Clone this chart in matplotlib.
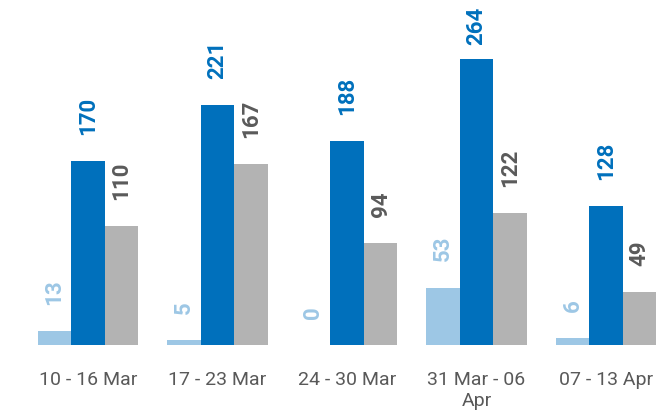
import matplotlib
matplotlib.use("Agg")
import matplotlib.pyplot as plt
import numpy as np
from matplotlib import font_manager

categories = ["10 - 16 Mar", "17 - 23 Mar", "24 - 30 Mar", "31 Mar - 06\nApr", "07 - 13 Apr"]
series_a = [13, 5, 0, 53, 6]          # light blue
series_b = [170, 221, 188, 264, 128]  # dark blue
series_c = [110, 167, 94, 122, 49]    # gray

bar_colors = ["#9DC7E5", "#0070BC", "#B3B3B3"]
label_colors = ["#9DC7E5", "#0070BC", "#5A5A5A"]

names = {f.name for f in font_manager.fontManager.ttflist}
label_font = "Roboto" if "Roboto" in names else "DejaVu Sans"
tick_font = "Roboto" if "Roboto" in names else "DejaVu Sans"

fig = plt.figure(figsize=(6.56, 4.13), dpi=100)
ax = fig.add_axes([0, 68 / 413, 1, 345 / 413])

x = np.arange(len(categories))
w = 0.259
ymax = 318
ax.set_ylim(0, ymax)
ax.set_xlim(-0.68, 4.386)

pad = 24
label_cap = 276.5
for i, (vals, col, lcol) in enumerate(zip([series_a, series_b, series_c], bar_colors, label_colors)):
    xs = x + (i - 1) * w
    ax.bar(xs, vals, width=w, color=col, linewidth=0)
    for xi, v in zip(xs, vals):
        y = min(v + pad, label_cap)
        ax.text(xi, y, str(v), rotation=90, ha="center", va="bottom",
                fontsize=16, fontweight="bold", color=lcol, family=label_font)

ax.set_xticks(x)
ax.set_xticklabels(categories, fontsize=14, color="#595959", family=tick_font, linespacing=1.2)
ax.tick_params(axis="x", length=0, pad=19)
ax.set_yticks([])
for s in ax.spines.values():
    s.set_visible(False)

fig.savefig("out.png", dpi=100)
